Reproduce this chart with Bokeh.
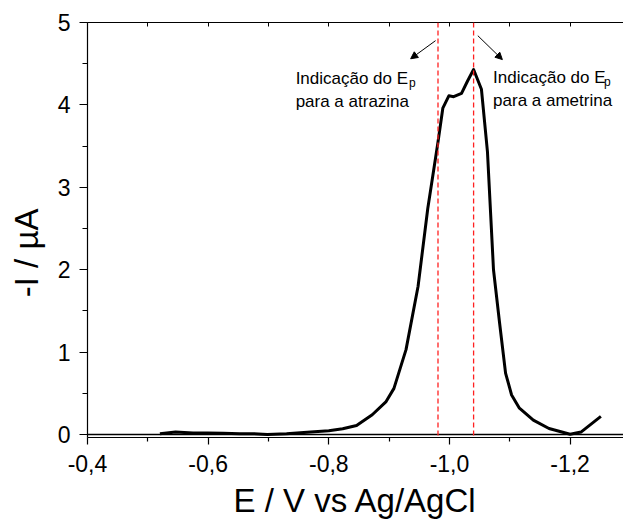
from bokeh.plotting import figure
from bokeh.models import Range1d, LinearAxis, FixedTicker, Span, Arrow, NormalHead, ColumnDataSource
from bokeh.core.properties import value
from bokeh.embed import file_html
from bokeh.resources import INLINE

# ---- data ----
potential = [-0.520, -0.546, -0.575, -0.599, -0.625, -0.652, -0.675, -0.698, -0.730,
             -0.770, -0.800, -0.823, -0.846, -0.872, -0.895, -0.908, -0.928, -0.948,
             -0.964, -0.981, -0.989, -0.999, -1.007, -1.020, -1.030, -1.040, -1.053,
             -1.063, -1.073, -1.083, -1.093, -1.103, -1.116, -1.139, -1.165, -1.200,
             -1.218, -1.251]
current = [0.01, 0.03, 0.02, 0.02, 0.015, 0.01, 0.01, 0.0, 0.01,
           0.03, 0.045, 0.07, 0.11, 0.24, 0.40, 0.56, 1.03, 1.80,
           2.74, 3.55, 3.96, 4.11, 4.10, 4.14, 4.29, 4.43, 4.19,
           3.43, 2.00, 1.36, 0.745, 0.48, 0.32, 0.175, 0.073, 0.004,
           0.03, 0.22]

ep_lines = [-0.981, -1.040]

x_ticks = [-0.4, -0.6, -0.8, -1.0, -1.2]
x_tick_labels = ["-0,4", "-0,6", "-0,8", "-1,0", "-1,2"]
x_minor_ticks = [-0.5, -0.7, -0.9, -1.1]
top_ticks = [-0.4, -0.5, -0.6, -0.7, -0.8, -0.9, -1.0, -1.1, -1.2]
y_ticks = [0, 1, 2, 3, 4, 5]
y_minor_ticks = [0.5, 1.5, 2.5, 3.5, 4.5]

x_title = "E / V vs Ag/AgCl"
# trailing no-break spaces shift the centred title down, as in the reference
y_title = "-I / µA" + "\u00a0" * 5

label_line1 = ["Indicação do E", "Indicação do E"]
label_line2 = ["para a atrazina", "para a ametrina"]
label_x = [-0.745, -1.0723]
label_y1 = [4.32, 4.33]
label_y2 = [4.04, 4.05]
sub_x = [-0.933, -1.256]
sub_y = [4.265, 4.275]

arrow_start_x = [-0.977, -1.047]
arrow_start_y = [4.78, 4.84]
arrow_end_x = [-0.9357, -1.0877]
arrow_end_y = [4.56, 4.55]

FONT = "Liberation Sans"

p = figure(width=623, height=526,
           x_range=Range1d(-0.4, -1.2885), y_range=Range1d(-0.036, 5.0),
           output_backend="svg", toolbar_location=None,
           x_axis_label=x_title, y_axis_label=y_title)
p.min_border_left = 87
p.min_border_top = 22
p.min_border_right = 0
p.min_border_bottom = 89
p.outline_line_color = None
p.background_fill_color = "white"
p.border_fill_color = "white"
p.xgrid.visible = False
p.ygrid.visible = False

xa = p.xaxis[0]
xa.ticker = FixedTicker(ticks=x_ticks, minor_ticks=x_minor_ticks)
xa.major_label_overrides = {t: l for t, l in zip(x_ticks, x_tick_labels)}
xa.major_tick_out = 7
xa.major_tick_in = 0
xa.minor_tick_out = 4
xa.minor_tick_in = 0
xa.major_label_standoff = 10
xa.major_label_text_font = FONT
xa.major_label_text_font_size = "23px"
xa.major_label_text_color = "black"
xa.axis_label_text_font = FONT
xa.axis_label_text_font_size = "33px"
xa.axis_label_text_font_style = "normal"
xa.axis_label_text_color = "black"
xa.axis_label_text_baseline = "alphabetic"
xa.axis_label_standoff = 7
xa.axis_line_width = 1.2
xa.major_tick_line_width = 1.2
xa.minor_tick_line_width = 1.2

ya = p.yaxis[0]
ya.ticker = FixedTicker(ticks=y_ticks, minor_ticks=y_minor_ticks)
ya.major_tick_out = 8
ya.major_tick_in = 0
ya.minor_tick_out = 5
ya.minor_tick_in = 0
ya.major_label_standoff = 9
ya.major_label_text_font = FONT
ya.major_label_text_font_size = "23px"
ya.major_label_text_color = "black"
ya.axis_label_text_font = FONT
ya.axis_label_text_font_size = "33px"
ya.axis_label_text_font_style = "normal"
ya.axis_label_text_color = "black"
ya.axis_label_standoff = 10
ya.axis_line_width = 1.2
ya.major_tick_line_width = 1.2
ya.minor_tick_line_width = 1.2

top = LinearAxis(ticker=FixedTicker(ticks=top_ticks, minor_ticks=[]))
top.major_tick_in = 4
top.major_tick_out = 0
top.major_label_text_font_size = "0px"
top.major_label_text_color = None
top.major_label_standoff = 0
top.axis_line_width = 1.2
top.major_tick_line_width = 1.0
p.add_layout(top, "above")

p.add_layout(Span(location=0, dimension="width", line_color="black", line_width=1.5))

for ep in ep_lines:
    p.add_layout(Span(location=ep, dimension="height", line_color="#ff2020",
                      line_width=1.3, line_dash="5 3"))

p.line(potential, current, line_color="black", line_width=3, line_join="round")

for i in range(2):
    p.add_layout(Arrow(end=NormalHead(size=7, fill_color="black", line_color="black"),
                       x_start=arrow_start_x[i], y_start=arrow_start_y[i],
                       x_end=arrow_end_x[i], y_end=arrow_end_y[i],
                       line_color="black", line_width=1))

src = ColumnDataSource(dict(x=label_x, y1=label_y1, y2=label_y2, t1=label_line1, t2=label_line2,
                            sx=sub_x, sy=sub_y, st=["p", "p"]))
p.text(x="x", y="y1", text="t1", source=src, text_font=value(FONT),
       text_font_size="17px", text_baseline="alphabetic", text_align="left", text_color="black")
p.text(x="x", y="y2", text="t2", source=src, text_font=value(FONT),
       text_font_size="17px", text_baseline="alphabetic", text_align="left", text_color="black")
p.text(x="sx", y="sy", text="st", source=src, text_font=value(FONT),
       text_font_size="12px", text_baseline="alphabetic", text_align="left", text_color="black")

open("out.html", "w").write(file_html(p, INLINE))
